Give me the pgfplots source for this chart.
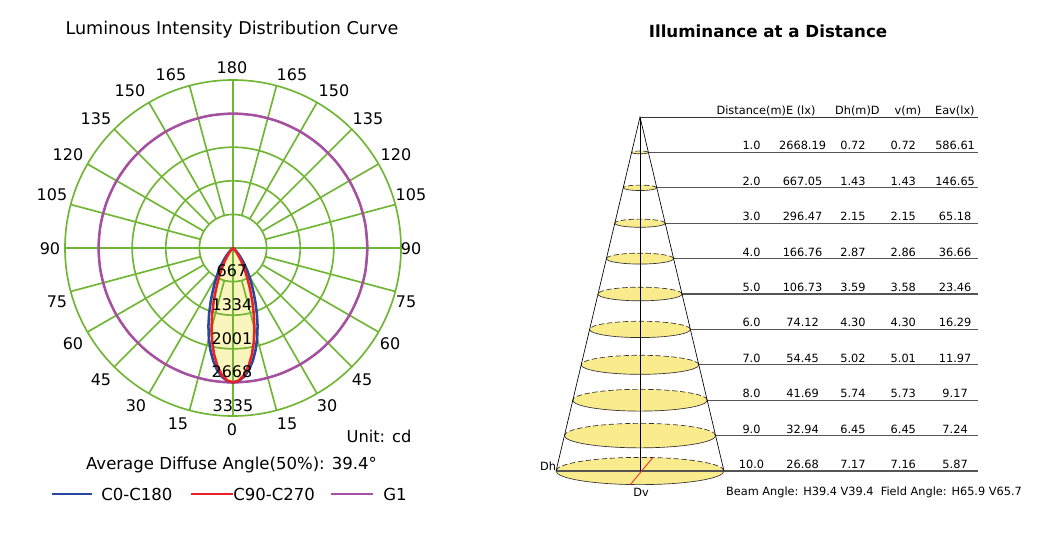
\documentclass[border=0pt]{standalone}
\usepackage{pgfplots}
\pgfplotsset{compat=1.18}
\usepackage{fontspec}
\setmainfont{DejaVu Sans}
\definecolor{gridgreen}{RGB}{112,182,52}
\definecolor{gpurple}{RGB}{165,80,160}
\definecolor{cblue}{RGB}{40,72,160}
\definecolor{cred}{RGB}{235,32,38}
\definecolor{blobfill}{RGB}{250,245,188}
\definecolor{ellfill}{RGB}{250,236,140}
\definecolor{rowgray}{RGB}{85,85,85}
\newcommand{\illrow}[5]{%
  \fill[ellfill] (axis cs:0,-#1) ellipse[x radius={#3*8.785pt}, y radius={#3*1.4231pt}];
  \draw[black!80, line width=0.5pt, dash pattern=on 4pt off 2pt] (axis cs:{#3/2},-#1) arc[start angle=0, end angle=180, x radius={#3*8.785pt}, y radius={#3*1.4231pt}];
  \draw[black!80, line width=0.5pt] (axis cs:{#3/2},-#1) arc[start angle=0, end angle=-180, x radius={#3*8.785pt}, y radius={#3*1.4231pt}];
  \addplot[rowgray, line width=0.8pt, forget plot] coordinates {({#3/2},-#1) (14.43,-#1)};
  \node[anchor=base, font=\fontsize{8.5}{10}\selectfont] at (axis cs:4.76,{-#1+0.07}) {#1};
  \node[anchor=base, font=\fontsize{8.5}{10}\selectfont] at (axis cs:6.94,{-#1+0.07}) {#2};
  \node[anchor=base, font=\fontsize{8.5}{10}\selectfont] at (axis cs:9.09,{-#1+0.07}) {#3};
  \node[anchor=base, font=\fontsize{8.5}{10}\selectfont] at (axis cs:11.24,{-#1+0.07}) {#4};
  \node[anchor=base, font=\fontsize{8.5}{10}\selectfont] at (axis cs:13.45,{-#1+0.07}) {#5};
}
\begin{document}
\begin{tikzpicture}
\path[use as bounding box] (0,0) rectangle (794.25pt,-418.5pt);
% ---------------- polar intensity curve ----------------
\begin{axis}[at={(174.75pt,-186pt)}, anchor=origin,
  x=0.037781pt, y=0.037781pt, hide axis, clip=false,
  xmin=-3400, xmax=3400, ymin=-3400, ymax=3400]
% yellow fill of the distribution
\addplot[draw=none, fill=blobfill, data cs=polar, forget plot] coordinates {
(210,0) (215,12) (220,40) (225,100) (227.5,150) (230,215) (232.5,300) (235,400) (237.5,520) (240,650) (242.5,790) (245,960) (247.5,1161.9) (250,1388.5) (252.5,1622.2) (255,1854.0) (257.5,2073.9) (260,2271.8) (262.5,2437.8) (265,2563.3) (267.5,2641.5) (270,2668) (272.5,2641.5) (275,2563.3) (277.5,2437.8) (280,2271.8) (282.5,2073.9) (285,1854.0) (287.5,1622.2) (290,1388.5) (292.5,1161.9) (295,960) (297.5,790) (300,650) (302.5,520) (305,400) (307.5,300) (310,215) (312.5,150) (315,100) (320,40) (325,12) (330,0)};
% grid
\draw[gridgreen, line width=1.25pt] (axis cs:0,0) circle[radius=667];
\draw[gridgreen, line width=1.25pt] (axis cs:0,0) circle[radius=1334];
\draw[gridgreen, line width=1.25pt] (axis cs:0,0) circle[radius=2001];
\draw[gridgreen, line width=1.25pt] (axis cs:0,0) circle[radius=2668];
\draw[gridgreen, line width=1.25pt] (axis cs:0,0) circle[radius=3335];
\addplot[gridgreen, line width=1.25pt, forget plot] coordinates {(0,-3335) (0,3335)};
\addplot[gridgreen, line width=1.25pt, forget plot] coordinates {(-3335,0) (3335,0)};
\pgfplotsinvokeforeach{15,30,45,60,75,105,120,135,150,165,195,210,225,240,255,285,300,315,330,345}{
  \addplot[gridgreen, line width=1.25pt, data cs=polar, forget plot] coordinates {(#1,667) (#1,3335)};
}
% G1
\addplot[gpurple, line width=1.9pt, data cs=polar, smooth] coordinates {
(0,2668) (10,2668) (20,2668) (30,2668) (40,2668) (50,2668) (60,2668) (70,2668) (80,2668) (90,2668) (100,2668) (110,2668) (120,2668) (130,2668) (140,2668) (150,2668) (160,2668) (170,2668) (180,2668) (190,2668) (200,2668) (210,2668) (220,2668) (230,2668) (240,2668) (250,2668) (260,2668) (270,2668) (280,2668) (290,2668) (300,2668) (310,2668) (320,2668) (330,2668) (340,2668) (350,2668) (360,2668)};
% C0-C180
\addplot[cblue, line width=1.9pt, data cs=polar, line join=round] coordinates {
(210,0) (215,12) (220,40) (225,100) (227.5,150) (230,215) (232.5,300) (235,400) (237.5,520) (240,650) (242.5,790) (245,960) (247.5,1161.9) (250,1388.5) (252.5,1622.2) (255,1854.0) (257.5,2073.9) (260,2271.8) (262.5,2437.8) (265,2563.3) (267.5,2641.5) (270,2668) (272.5,2641.5) (275,2563.3) (277.5,2437.8) (280,2271.8) (282.5,2073.9) (285,1854.0) (287.5,1622.2) (290,1388.5) (292.5,1161.9) (295,960) (297.5,790) (300,650) (302.5,520) (305,400) (307.5,300) (310,215) (312.5,150) (315,100) (320,40) (325,12) (330,0)};
% C90-C270
\addplot[cred, line width=1.9pt, data cs=polar, line join=round] coordinates {
(215,0) (220,10) (225,33) (227.5,55) (230,88) (232.5,135) (235,200) (237.5,290) (240,400) (242.5,530) (245,690) (247.5,880.7) (250,1116.9) (252.5,1374.3) (255,1642.1) (257.5,1906.9) (260,2153.3) (262.5,2365.6) (265,2529.3) (267.5,2632.7) (270,2668) (272.5,2632.7) (275,2529.3) (277.5,2365.6) (280,2153.3) (282.5,1906.9) (285,1642.1) (287.5,1374.3) (290,1116.9) (292.5,880.7) (295,690) (297.5,530) (300,400) (302.5,290) (305,200) (307.5,135) (310,88) (312.5,55) (315,33) (320,10) (325,0)};
\end{axis}
% ---------------- illuminance cone ----------------
\begin{axis}[at={(480pt,-87.75pt)}, anchor=origin,
  x=17.57pt, y=26.55pt, hide axis, clip=false,
  xmin=-4, xmax=15, ymin=-11, ymax=0.5]
\illrow{1.0}{2668.19}{0.72}{0.72}{586.61}
\illrow{2.0}{667.05}{1.43}{1.43}{146.65}
\illrow{3.0}{296.47}{2.15}{2.15}{65.18}
\illrow{4.0}{166.76}{2.87}{2.86}{36.66}
\illrow{5.0}{106.73}{3.59}{3.58}{23.46}
\illrow{6.0}{74.12}{4.30}{4.30}{16.29}
\illrow{7.0}{54.45}{5.02}{5.01}{11.97}
\illrow{8.0}{41.69}{5.74}{5.73}{9.17}
\illrow{9.0}{32.94}{6.45}{6.45}{7.24}
\illrow{10.0}{26.68}{7.17}{7.16}{5.87}
\addplot[rowgray, line width=0.8pt, forget plot] coordinates {(-3.585,-10) (3.585,-10)};
\addplot[black, line width=0.5pt, forget plot] coordinates {(-3.585,-10) (0,0) (3.585,-10)};
\addplot[black, line width=0.5pt, forget plot] coordinates {(0,0) (0,-10)};
\addplot[black!80, line width=0.75pt, forget plot] coordinates {(0,0) (14.43,0)};
\addplot[cred, line width=0.6pt, forget plot] coordinates {(0.542,-9.624) (-0.427,-10.395)};
\node[anchor=base, font=\fontsize{8.5}{10}\selectfont] at (axis cs:5.38,0.07) {Distance(m)E (lx)};
\node[anchor=base, font=\fontsize{8.5}{10}\selectfont] at (axis cs:9.28,0.07) {Dh(m)D};
\node[anchor=base, font=\fontsize{8.5}{10}\selectfont] at (axis cs:11.44,0.07) {v(m)};
\node[anchor=base, font=\fontsize{8.5}{10}\selectfont] at (axis cs:13.44,0.07) {Eav(lx)};
\end{axis}
% ---------------- texts ----------------
\begin{scope}[x=0.75pt, y=-0.75pt]
\begin{scope}[font=\fontsize{12}{14}\selectfont]
\node at (232,430) {0};
\node at (178,424) {15}; \node at (287,424) {15};
\node at (136,406) {30}; \node at (327,406) {30};
\node at (101,380) {45}; \node at (362,380) {45};
\node at (73,344) {60}; \node at (390,344) {60};
\node at (57,302) {75}; \node at (406,302) {75};
\node at (50,249) {90}; \node at (411,249) {90};
\node at (52,195) {105}; \node at (411,195) {105};
\node at (68,155) {120}; \node at (396,155) {120};
\node at (96,119) {135}; \node at (368,119) {135};
\node at (130,91) {150}; \node at (334,91) {150};
\node at (171,75) {165}; \node at (292,75) {165};
\node at (232,68) {180};
\node at (232,271) {667};
\node at (232,305) {1334};
\node at (232,339) {2001};
\node at (232,372) {2668};
\node at (233,406) {3335};
\end{scope}
\node[font=\fontsize{13.2}{15}\selectfont] at (232,30) {Luminous Intensity Distribution Curve};
\node[font=\fontsize{12.2}{14}\selectfont] at (379,436) {Unit: cd};
\node[font=\fontsize{12.4}{14}\selectfont] at (231.5,465) {Average Diffuse Angle(50\%): 39.4°};
\draw[cblue, line width=1.9pt] (52,494) -- (92,494);
\node[anchor=west, inner sep=0pt, font=\fontsize{12.4}{14}\selectfont] at (101,494) {C0-C180};
\draw[cred, line width=1.9pt] (191,494) -- (233,494);
\node[anchor=west, inner sep=0pt, font=\fontsize{12.4}{14}\selectfont] at (233,494) {C90-C270};
\draw[gpurple, line width=1.9pt] (331,494) -- (373,494);
\node[anchor=west, inner sep=0pt, font=\fontsize{12.4}{14}\selectfont] at (383,494) {G1};
\node[font=\bfseries\fontsize{12.5}{14}\selectfont] at (768,31) {Illuminance at a Distance};
\node[font=\fontsize{8.5}{10}\selectfont] at (874,492) {Beam Angle: H39.4 V39.4\ \ Field Angle: H65.9 V65.7};
\node[font=\fontsize{8.5}{10}\selectfont] at (548,466) {Dh};
\node[font=\fontsize{8.5}{10}\selectfont] at (641,492) {Dv};
\end{scope}
\end{tikzpicture}
\end{document}
